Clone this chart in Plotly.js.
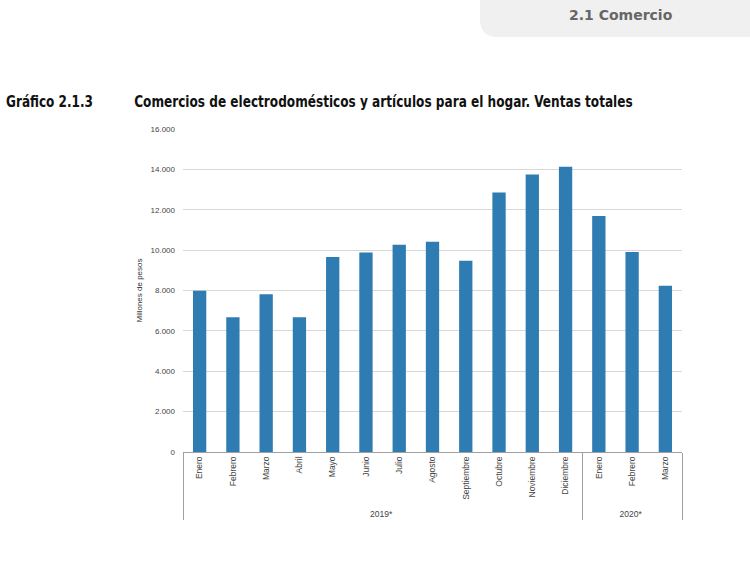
<!DOCTYPE html>
<html>
<head>
<meta charset="utf-8">
<script src="https://cdn.plot.ly/plotly-3.0.1.min.js"></script>
<style>
  html, body { margin: 0; padding: 0; background: #fff; }
  #chart { width: 750px; height: 580px; }
</style>
</head>
<body>
<div id="chart"></div>
<script>
// Data (millones de pesos)
const months = ["Enero","Febrero","Marzo","Abril","Mayo","Junio","Julio","Agosto","Septiembre","Octubre","Noviembre","Diciembre","Enero","Febrero","Marzo"];
const years = ["2019*","2019*","2019*","2019*","2019*","2019*","2019*","2019*","2019*","2019*","2019*","2019*","2020*","2020*","2020*"];
const ventas = [7990, 6670, 7810, 6670, 9660, 9880, 10270, 10420, 9470, 12850, 13740, 14130, 11690, 9910, 8240];
const yTicks = [0, 2000, 4000, 6000, 8000, 10000, 12000, 14000, 16000];

const titleNarrow = "Liberation Sans Narrow, DejaVu Sans Condensed, Arial Narrow, sans-serif";
const plainFont = "Liberation Sans, Arial, sans-serif";

// plot area in px: x 183..682, y 129..452
const L = 183, R = 682, T = 129, B = 452;
const px = v => (v - L) / (R - L);
const py = v => (B - v) / (B - T);

const trace = {
  type: "bar",
  x: [years, months],
  y: ventas,
  marker: { color: "#2e7cb2", line: { width: 0 } },
  hoverinfo: "y"
};

// rounded tab path (paper coords)
const tx0 = px(480), tx1 = px(760), ty0 = py(-20), ty1 = py(37);
const rx = 18 / (R - L), ry = 18 / (B - T);
const tabPath = `M ${tx1} ${ty0} L ${tx0 + rx} ${ty0} Q ${tx0} ${ty0} ${tx0} ${ty0 - ry} ` +
  `L ${tx0} ${ty1 + ry} Q ${tx0} ${ty1} ${tx0 + rx} ${ty1} L ${tx1} ${ty1} Z`;

const layout = {
  width: 750, height: 580,
  margin: { l: L, r: 750 - R, t: T, b: 580 - B, pad: 0 },
  paper_bgcolor: "#ffffff",
  plot_bgcolor: "#ffffff",
  separators: ",.",
  showlegend: false,
  bargap: 0.6,
  xaxis: {
    type: "multicategory",
    tickangle: -90,
    tickfont: { family: plainFont, size: 8.5, color: "#444" },
    showline: true, linecolor: "#a0a0a0", linewidth: 1,
    showgrid: false,
    ticks: "",
    showdividers: true, dividercolor: "#a0a0a0", dividerwidth: 1,
    fixedrange: true
  },
  yaxis: {
    range: [0, 16000],
    tickvals: yTicks,
    tickformat: ",d",
    tickfont: { family: plainFont, size: 8, color: "#444" },
    showgrid: true, gridcolor: "#d8d8d8", gridwidth: 1,
    zeroline: false,
    showline: false,
    ticks: "",
    ticklabelstandoff: 7,
    title: { text: "Millones de pesos", font: { family: plainFont, size: 8, color: "#333" }, standoff: 6 },
    fixedrange: true
  },
  shapes: [
    { type: "path", xref: "paper", yref: "paper", path: tabPath,
      fillcolor: "#f0f0f0", line: { width: 0 }, layer: "below" }
  ],
  annotations: [
    { xref: "paper", yref: "paper", x: px(620.5), y: py(15), xanchor: "center", yanchor: "middle",
      text: "<b>2.1 Comercio</b>", showarrow: false,
      font: { family: "DejaVu Sans, sans-serif", size: 14, color: "#666" } },
    { xref: "paper", yref: "paper", x: px(4), y: py(101), xanchor: "left", yanchor: "middle",
      text: "<b>Gráfico 2.1.3</b>", showarrow: false,
      font: { family: titleNarrow, size: 16.5, color: "#111" } },
    { xref: "paper", yref: "paper", x: px(132), y: py(101), xanchor: "left", yanchor: "middle",
      text: "<b>Comercios de electrodomésticos y artículos para el hogar. Ventas totales</b>", showarrow: false,
      font: { family: titleNarrow, size: 16.5, color: "#111" } }
  ]
};

// Horizontal condensing of the two title texts (reference uses a condensed bold face)
const condenseWidth = [null, 87, 499];

Plotly.newPlot("chart", [trace], layout, { displayModeBar: false, staticPlot: true }).then(gd => {
  const texts = gd.querySelectorAll(".annotation-text");
  texts.forEach((t, i) => {
    const w = condenseWidth[i];
    if (!w) return;
    const bb = t.getBBox();
    if (!bb.width) return;
    const s = w / bb.width;
    const x0 = bb.x;
    t.setAttribute("transform", `translate(${x0} 0) scale(${s} 1) translate(${-x0} 0)`);
  });
});
</script>
</body>
</html>
